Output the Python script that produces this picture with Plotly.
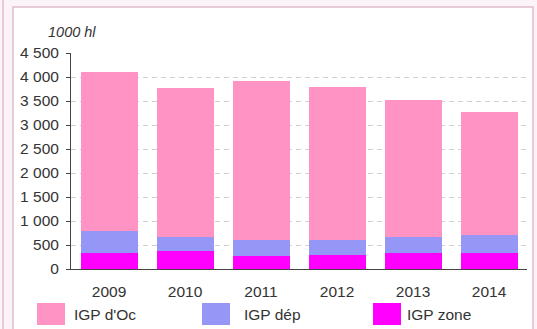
import plotly.graph_objects as go

years = ["2009", "2010", "2011", "2012", "2013", "2014"]
igp_zone = [340, 365, 270, 290, 325, 325]
igp_dep = [460, 310, 335, 315, 337, 385]
igp_oc = [3300, 3100, 3315, 3195, 2868, 2560]

series_names = ["IGP zone", "IGP dép", "IGP d'Oc"]
series_values = [igp_zone, igp_dep, igp_oc]
series_colors = ["#FF00FF", "#9696F7", "#FF94C4"]

y_tickvals = [0, 500, 1000, 1500, 2000, 2500, 3000, 3500, 4000, 4500]
y_ticktext = ["0", "500", "1 000", "1 500", "2 000", "2 500", "3 000", "3 500", "4 000", "4 500"]
unit_label = "1000 hl"

W, H = 537, 329
L, R, T, B = 71, 10, 53, 60
pw, ph = W - L - R, H - T - B

def px(x):
    return (x - L) / pw

def py(y):
    return (H - B - y) / ph

fig = go.Figure()
for name, vals, col in zip(series_names, series_values, series_colors):
    fig.add_trace(go.Bar(x=years, y=vals, name=name, marker=dict(color=col, line=dict(width=0)),
                         showlegend=False, hoverinfo="skip"))

font_family = "Liberation Sans, Arial, sans-serif"
FS = 15.5
fig.update_layout(
    width=W, height=H,
    margin=dict(l=L, r=R, t=T, b=B, pad=0),
    barmode="stack", bargap=0.25,
    paper_bgcolor="#FBF3F7",
    plot_bgcolor="rgba(0,0,0,0)",
    font=dict(family=font_family, size=FS, color="#333333"),
    xaxis=dict(showline=True, linecolor="#444444", linewidth=1, ticks="", showgrid=False,
               tickfont=dict(size=FS, color="#333333"), ticklabelstandoff=8),
    yaxis=dict(range=[0, 4500], tickvals=y_tickvals, ticktext=y_ticktext,
               showline=True, linecolor="#444444", linewidth=1,
               ticks="outside", ticklen=4, tickcolor="#444444",
               showgrid=True, gridcolor="#D2D2D2", gridwidth=1, griddash="5px,4px",
               zeroline=False, tickfont=dict(size=FS, color="#333333"), ticklabelstandoff=4),
)

# outer frame
fig.add_shape(type="rect", xref="paper", yref="paper", x0=px(13), x1=px(533), y0=py(340), y1=py(7),
              line=dict(color="#E2BCCD", width=1.5), fillcolor="white", layer="below")
fig.add_shape(type="line", xref="paper", yref="paper", x0=px(3), x1=px(3), y0=py(340), y1=py(0),
              line=dict(color="#E2BCCD", width=1.5), layer="below")

fig.add_annotation(text="<i>" + unit_label + "</i>", xref="paper", yref="paper", x=px(46), y=py(32),
                   xanchor="left", yanchor="middle", showarrow=False,
                   font=dict(size=14.5, color="#333333", family=font_family))

# legend drawn manually
legend_order = [2, 1, 0]
sw_x = [37, 202, 373]
txt_x = [72, 242, 405]
for i, k in enumerate(legend_order):
    fig.add_shape(type="rect", xref="paper", yref="paper", x0=px(sw_x[i]), x1=px(sw_x[i] + 28),
                  y0=py(325), y1=py(303), fillcolor=series_colors[k], line=dict(width=0))
    fig.add_annotation(text=series_names[k], xref="paper", yref="paper", x=px(txt_x[i]), y=py(314),
                       xanchor="left", yanchor="middle", showarrow=False,
                       font=dict(size=FS, color="#333333", family=font_family))

fig.write_html("out.html", config={"displayModeBar": False, "staticPlot": True},
               post_script="document.body.style.margin='0';document.body.style.overflow='hidden';")
